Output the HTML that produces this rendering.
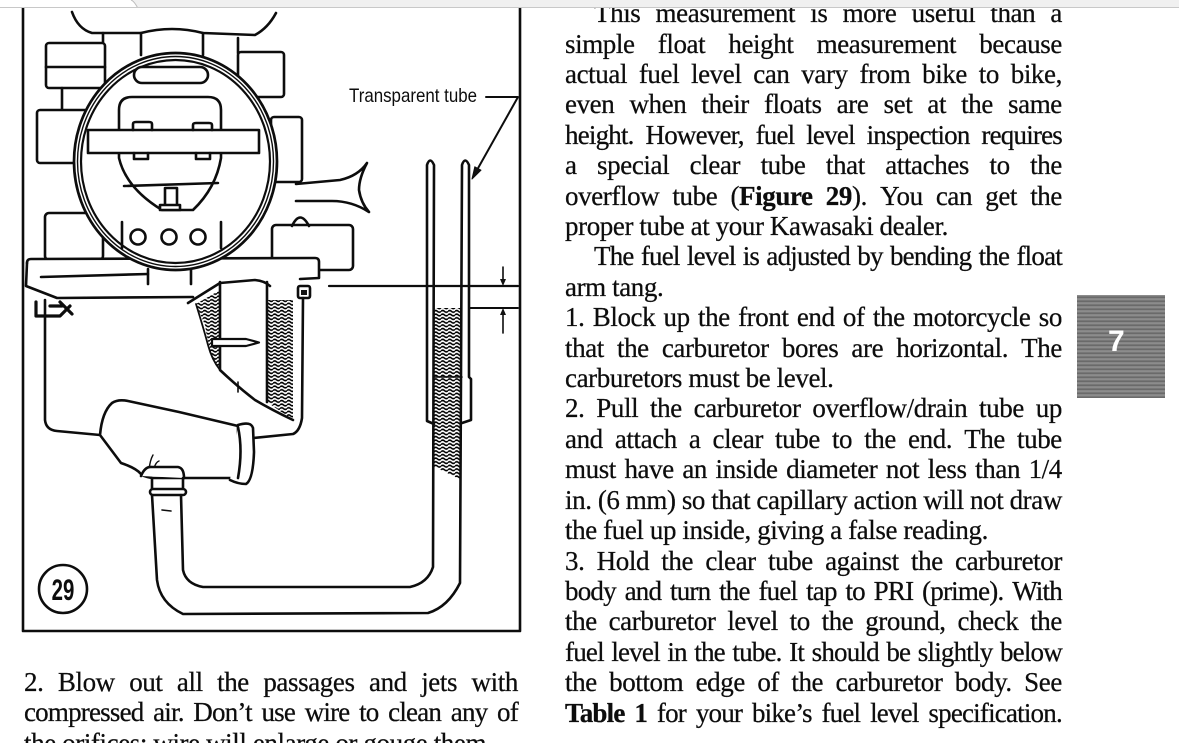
<!DOCTYPE html>
<html><head><meta charset="utf-8">
<style>
html,body{margin:0;padding:0;background:#fff;width:1179px;height:743px;overflow:hidden;}
#page{position:relative;width:1179px;height:743px;overflow:hidden;background:#fff;}
.col{position:absolute;font-family:"Liberation Serif","Times New Roman",serif;font-size:27px;line-height:30.4px;color:#0d0d0d;letter-spacing:-0.4px;-webkit-text-stroke:0.25px #0d0d0d;}
.j{display:flex;justify-content:space-between;white-space:nowrap;}
.l{white-space:nowrap;}
.t{letter-spacing:-0.8px;}
.ind{padding-left:29px;}
b{font-weight:bold;}
.tab{position:absolute;left:1077px;top:295px;width:88px;height:103px;
background:repeating-linear-gradient(0deg,#646464 0px,#7e7e7e 2px,#9a9a9a 3px,#727272 4px);}
.seven{position:absolute;left:1108px;top:327px;font-family:"Liberation Sans",Arial,sans-serif;font-weight:bold;font-size:30px;line-height:30px;color:#fff;}
</style></head>
<body>
<div id="page">

<svg width="1179" height="743" style="position:absolute;left:0;top:0" xmlns="http://www.w3.org/2000/svg">
<defs>
<pattern id="w" width="7" height="3.6" patternUnits="userSpaceOnUse">
<path d="M0,1.8 Q1.75,0.2 3.5,1.8 T7,1.8" fill="none" stroke="#000" stroke-width="1.6"/>
</pattern>
</defs>
<g fill="none" stroke="#0d0d0d" stroke-width="2.6" stroke-linejoin="round" stroke-linecap="round">
<!-- frame -->
<path d="M23,8 V631 H520 V8" stroke-width="2.6"/>

<!-- top outline -->
<path d="M72,12 Q78,29 92,33 L141,33 Q172,25 203,33 L255,35 Q268,28 276,13"/>
<path d="M103,33 V62 M141,33 V55 M203,33 V55 M238,38 V53"/>

<!-- side blocks -->
<rect x="46" y="43" width="59" height="45" rx="3" fill="#fff"/>
<path d="M46,67 H105"/>
<path d="M62,88 V110"/>
<rect x="37" y="110" width="66" height="53" rx="3" fill="#fff"/>
<rect x="238" y="52" width="46" height="45" rx="3" fill="#fff"/>
<rect x="271" y="117" width="31" height="65" rx="3" fill="#fff"/>
<path d="M296,184 L340,180 Q358,176 367,163 Q359,178 359,190 Q361,203 369,212 Q352,201 332,201 L296,201" fill="#fff"/>
<rect x="45" y="213" width="58" height="47" rx="4" fill="#fff"/>
<rect x="272" y="225" width="81" height="45" rx="4" fill="#fff"/>
<path d="M292,226 Q300,209 309,226"/>

<!-- flange plate -->
<path d="M27,263 Q27,259 31,259 L315,258 Q319,258 319,262 L319,278 L300,279" fill="#fff"/>
<path d="M27,263 L26,286 L57,298 L193,297"/>
<path d="M41,277 L148,274"/>
<path d="M188,303 L220,283 L255,280 Q265,281 270,286"/>
<rect x="298" y="286" width="12" height="12" rx="2" fill="#fff"/>
<rect x="301" y="290" width="6" height="5" fill="#111" stroke="none"/>
<!-- clip -->
<path d="M36,302 L36,316 L60,316 L70,306" stroke-width="3.2"/>
<path d="M50,306 L62,306 M60,302 L72,314" stroke-width="3.2"/>

<!-- bowl -->
<path d="M45,300 L45,420 Q46,430 57,431 L100,435"/>
<path d="M303,298 L302,418 Q300,431 293,434 L253,438"/>
<path d="M196,304 L220,290 L220,370 L214,362 Q208,345 205,325 Z" fill="url(#w)" stroke="none"/>
<path d="M267,300 L293,300 L293,420 L267,402 Z" fill="url(#w)" stroke="none"/>
<path d="M220,282 L220,370 Q238,387 255,400 Q272,410 293,420"/>
<path d="M267,282 L267,402"/>
<path d="M196,304 Q204,330 208,345 Q212,360 220,370" stroke-width="1.8"/>
<path d="M212,339 L246,339 L259,342.5 L246,346 L212,346 Z" fill="#fff" stroke-width="2.2"/>
<path d="M238,382 V392" stroke-width="1.6"/>

<!-- elbow -->
<path d="M100,435 Q102,412 112,403 Q118,399 128,401 L179,412 L238,426 L238,478 L183,478 L152,478 Q142,476 141,474 Q136,468 121,463 Z" fill="#fff"/>
<path d="M238,425 Q251,421 253,428 L254,452 Q253,480 246,484 Q238,484 230,480" fill="#fff"/>
<path d="M238,427 Q243,450 238,478"/>
<path d="M149,470 Q150,460 153,455 M154,468 Q156,462 159,461" stroke-width="1.4"/>
<path d="M141,476 Q145,466 152,467 L178,467 Q184,468 184,478" fill="#fff"/>
<path d="M152,478 L152,489 M183,478 L183,489"/>
<rect x="150" y="489" width="36" height="6" rx="3" fill="#fff"/>
<path d="M162,510 L171,511" stroke-width="1.6"/>

<!-- tube hatch -->
<path d="M434.5,308 H461.5 V480 L434.5,467 Z" fill="url(#w)" stroke="none"/>

<!-- U tube + transparent tube walls -->
<path d="M152,495 L157,580 Q160,603 183,614 L428,613 Q448,607 460,583 L462,165 Q465,156 469,165 L469,377 L471,379 L471,420 L462,423"/>
<path d="M181,495 L183,570 Q186,584 203,587 L410,587 Q428,583 433,567 L434,165 Q430,156 427,165 L427,421 L434,424"/>
<path d="M434,377 H462" stroke-width="1.6"/>

<!-- level line & dimension -->
<path d="M329,286 H518" stroke-width="2.2"/>
<path d="M470,308 H518" stroke-width="2"/>
<path d="M503,267 V281 M503,313 V333" stroke-width="1.6"/>
<path d="M500,279 L506,279 L503,286 Z" fill="#111" stroke="none"/>
<path d="M500,315 L506,315 L503,308 Z" fill="#111" stroke="none"/>

<!-- leader -->
<path d="M486,97 H518 L477,170" stroke-width="2"/>
<path d="M472,179 L481,170.2 L474.8,166.8 Z" fill="#111" stroke-width="1"/>

<!-- main circle -->
<ellipse cx="175.5" cy="161.5" rx="101.5" ry="108.5" fill="#fff" stroke-width="2.7"/>
<ellipse cx="175.5" cy="161.5" rx="98" ry="105" stroke-width="1.4"/>
<ellipse cx="175.5" cy="161.5" rx="94.5" ry="101.5" stroke-width="2.2"/>
<rect x="134" y="67" width="74" height="16" rx="8" fill="#fff"/>
<path d="M119,110 Q119,97 132,97 L208,97 Q221,97 221,110 L221,158 Q216,188 193,210 L162,210 Q126,188 119,158 Z" fill="#fff"/>
<rect x="88" y="130" width="171" height="23" fill="#fff"/>
<path d="M133,130 V124 Q133,122 136,122 L149,122 Q152,122 152,124 V130 M193,130 V125 Q193,123 196,123 L209,123 Q212,123 212,125 V130"/>
<path d="M134,153 V159 H148 V153 M196,153 V159 H210 V153"/>
<path d="M124,186 L218,183"/>
<rect x="165" y="188" width="12" height="18" fill="#fff"/>
<rect x="160" y="205" width="20" height="5" fill="#fff"/>
<path d="M122,222 L122,248 M221,222 L221,248"/>
<circle cx="138" cy="237" r="7.5"/>
<circle cx="169" cy="237" r="7.5"/>
<circle cx="198" cy="237" r="7.5"/>
<path d="M148,269 V284 M191,269 V284"/>

<!-- figure number -->
<circle cx="63" cy="589" r="24" stroke-width="2.6"/>
</g>
<text transform="translate(63,600) scale(0.68,1)" text-anchor="middle" font-family="Liberation Sans, Arial, sans-serif" font-weight="bold" font-size="30" fill="#0d0d0d">29</text>
<text transform="translate(349,102) scale(0.89,1)" font-family="Liberation Sans, Arial, sans-serif" font-size="19" fill="#0d0d0d">Transparent tube</text>
</svg>

<!-- right column -->
<div class="col" style="left:565px;top:-1.8px;width:497px;">
<div class="j ind"><span>This</span><span>measurement</span><span>is</span><span>more</span><span>useful</span><span>than</span><span>a</span></div>
<div class="j"><span>simple</span><span>float</span><span>height</span><span>measurement</span><span>because</span></div>
<div class="j"><span>actual</span><span>fuel</span><span>level</span><span>can</span><span>vary</span><span>from</span><span>bike</span><span>to</span><span>bike,</span></div>
<div class="j"><span>even</span><span>when</span><span>their</span><span>floats</span><span>are</span><span>set</span><span>at</span><span>the</span><span>same</span></div>
<div class="j t"><span>height.</span><span>However,</span><span>fuel</span><span>level</span><span>inspection</span><span>requires</span></div>
<div class="j"><span>a</span><span>special</span><span>clear</span><span>tube</span><span>that</span><span>attaches</span><span>to</span><span>the</span></div>
<div class="j"><span>overflow</span><span>tube</span><span>(<b>Figure</b></span><span><b>29</b>).</span><span>You</span><span>can</span><span>get</span><span>the</span></div>
<div class="l">proper tube at your Kawasaki dealer.</div>
<div class="j ind t"><span>The</span><span>fuel</span><span>level</span><span>is</span><span>adjusted</span><span>by</span><span>bending</span><span>the</span><span>float</span></div>
<div class="l">arm tang.</div>
<div class="j"><span>1.</span><span>Block</span><span>up</span><span>the</span><span>front</span><span>end</span><span>of</span><span>the</span><span>motorcycle</span><span>so</span></div>
<div class="j"><span>that</span><span>the</span><span>carburetor</span><span>bores</span><span>are</span><span>horizontal.</span><span>The</span></div>
<div class="l">carburetors must be level.</div>
<div class="j"><span>2.</span><span>Pull</span><span>the</span><span>carburetor</span><span>overflow/drain</span><span>tube</span><span>up</span></div>
<div class="j"><span>and</span><span>attach</span><span>a</span><span>clear</span><span>tube</span><span>to</span><span>the</span><span>end.</span><span>The</span><span>tube</span></div>
<div class="j"><span>must</span><span>have</span><span>an</span><span>inside</span><span>diameter</span><span>not</span><span>less</span><span>than</span><span>1/4</span></div>
<div class="j"><span>in.</span><span>(6</span><span>mm)</span><span>so</span><span>that</span><span>capillary</span><span>action</span><span>will</span><span>not</span><span>draw</span></div>
<div class="l">the fuel up inside, giving a false reading.</div>
<div class="j"><span>3.</span><span>Hold</span><span>the</span><span>clear</span><span>tube</span><span>against</span><span>the</span><span>carburetor</span></div>
<div class="j t"><span>body</span><span>and</span><span>turn</span><span>the</span><span>fuel</span><span>tap</span><span>to</span><span>PRI</span><span>(prime).</span><span>With</span></div>
<div class="j"><span>the</span><span>carburetor</span><span>level</span><span>to</span><span>the</span><span>ground,</span><span>check</span><span>the</span></div>
<div class="j t"><span>fuel</span><span>level</span><span>in</span><span>the</span><span>tube.</span><span>It</span><span>should</span><span>be</span><span>slightly</span><span>below</span></div>
<div class="j"><span>the</span><span>bottom</span><span>edge</span><span>of</span><span>the</span><span>carburetor</span><span>body.</span><span>See</span></div>
<div class="j t"><span><b>Table</b></span><span><b>1</b></span><span>for</span><span>your</span><span>bike’s</span><span>fuel</span><span>level</span><span>specification.</span></div>
</div>

<!-- left column text -->
<div class="col" style="left:24px;top:667px;width:494px;">
<div class="j"><span>2.</span><span>Blow</span><span>out</span><span>all</span><span>the</span><span>passages</span><span>and</span><span>jets</span><span>with</span></div>
<div class="j t"><span>compressed</span><span>air.</span><span>Don’t</span><span>use</span><span>wire</span><span>to</span><span>clean</span><span>any</span><span>of</span></div>
<div class="l">the orifices; wire will enlarge or gouge them.</div>
</div>

<!-- section tab -->
<div class="tab"></div>
<div class="seven">7</div>

<!-- top browser-like bar -->
<svg width="1179" height="9" style="position:absolute;left:0;top:0" xmlns="http://www.w3.org/2000/svg">
<rect x="0" y="0" width="1179" height="7.5" fill="#f0f0f0"/>
<path d="M0,0 L131,0 Q134,1 137.5,7.5 L0,7.5 Z" fill="#fff"/>
<path d="M131,0 Q134,1 137.5,7.5" fill="none" stroke="#bdbdbd" stroke-width="1"/>
<path d="M0,7.5 H1179" stroke="#c8c8c8" stroke-width="1"/>
</svg>

</div>
</body></html>
